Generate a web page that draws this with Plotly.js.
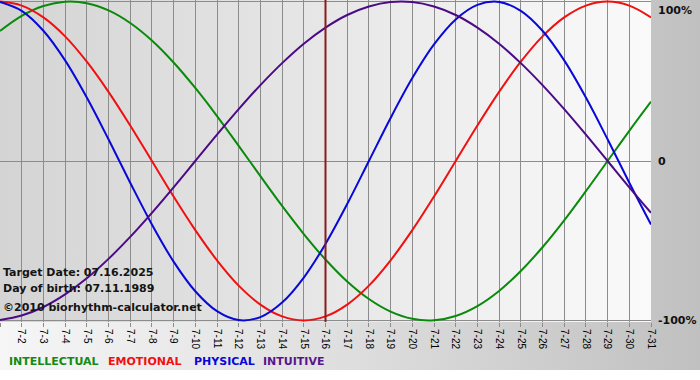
<!DOCTYPE html>
<html>
<head>
<meta charset="utf-8">
<script src="https://cdn.plot.ly/plotly-3.0.1.min.js"></script>
<style>
  html, body { margin: 0; padding: 0; background: #ffffff; }
  #chart {
    width: 700px; height: 380px;
    background:
      linear-gradient(to right, #d4d4d4, #fafafa) 0 0 / 651px 322px no-repeat,
      linear-gradient(to right, #f6f6f6 0%, #dedede 50%, #c0c0c0 100%) 0 0 / 700px 370px no-repeat,
      #ffffff;
  }
</style>
</head>
<body>
<div id="chart"></div>
<script>
// ---- data ----
const days = [1,2,3,4,5,6,7,8,9,10,11,12,13,14,15,16,17,18,19,20,21,22,23,24,25,26,27,28,29,30,31];
const tickLabels = ['7-1','7-2','7-3','7-4','7-5','7-6','7-7','7-8','7-9','7-10','7-11','7-12','7-13','7-14','7-15','7-16',
  '7-17','7-18','7-19','7-20','7-21','7-22','7-23','7-24','7-25','7-26','7-27','7-28','7-29','7-30','7-31'];

const intellectual = [0.815,0.910,0.972,0.999,0.990,0.945,0.866,0.756,0.618,0.458,0.282,0.095,-0.095,-0.282,-0.458,-0.618,
  -0.756,-0.866,-0.945,-0.990,-0.999,-0.972,-0.910,-0.815,-0.690,-0.541,-0.372,-0.189,0.000,0.189,0.372];
const emotional = [1.000,0.975,0.901,0.782,0.623,0.434,0.223,0.000,-0.223,-0.434,-0.623,-0.782,-0.901,-0.975,-1.000,-0.975,
  -0.901,-0.782,-0.623,-0.434,-0.223,0.000,0.223,0.434,0.623,0.782,0.901,0.975,1.000,0.975,0.901];
const physical = [0.998,0.942,0.817,0.631,0.398,0.136,-0.136,-0.398,-0.631,-0.817,-0.942,-0.998,-0.979,-0.888,-0.731,-0.520,
  -0.270,0.000,0.270,0.520,0.731,0.888,0.979,0.998,0.942,0.817,0.631,0.398,0.136,-0.136,-0.398];
const intuitive = [-0.997,-0.969,-0.916,-0.837,-0.736,-0.614,-0.476,-0.325,-0.165,0.000,0.165,0.325,0.476,0.614,0.736,0.837,
  0.916,0.969,0.997,0.997,0.969,0.916,0.837,0.736,0.614,0.476,0.325,0.165,0.000,-0.165,-0.325];

const seriesNames = ['INTELLECTUAL','EMOTIONAL','PHYSICAL','INTUITIVE'];
const targetDay = 16;
const infoLines = ['Target Date: 07.16.2025','Day of birth: 07.11.1989','\u00A92010 biorhythm-calculator.net'];
const yTickVals = [1, 0, -1];
const yTickText = ['100%', '0', '-100%'];

// ---- styling ----
const seriesData = [intellectual, emotional, physical, intuitive];
const seriesColors = ['#0a8a0a', '#f01010', '#0808d8', '#4b0a86'];
const legendColors = ['#138a13', '#f01010', '#0808d8', '#5a148e'];
const legendX = [8, 107, 193, 262];   // px
const infoY = [272, 288, 307];         // px
const FONT = 'Verdana, "DejaVu Sans", sans-serif';
const plotW = 651, plotH = 322;

const traces = seriesData.map((vals, i) => ({
  type: 'scatter', mode: 'lines', x: days, y: vals, name: seriesNames[i],
  line: { color: seriesColors[i], width: 2, shape: 'spline', smoothing: 1 },
  hoverinfo: 'skip'
}));

const annotations = [];
infoLines.forEach((t, i) => annotations.push({
  xref: 'paper', yref: 'paper', x: 1 / plotW, y: (plotH - infoY[i]) / plotH,
  xanchor: 'left', yanchor: 'middle', showarrow: false, text: '<b>' + t + '</b>',
  font: { family: FONT, size: 11, color: '#141414' }
}));
seriesNames.forEach((n, i) => annotations.push({
  xref: 'paper', yref: 'paper', x: (legendX[i] - 1) / plotW, y: (plotH - 361) / plotH,
  xanchor: 'left', yanchor: 'middle', showarrow: false, text: '<b>' + n + '</b>',
  font: { family: FONT, size: 11, color: legendColors[i] }
}));
yTickVals.forEach((v, i) => annotations.push({
  xref: 'paper', yref: 'y', x: 1, y: v, xshift: 5,
  xanchor: 'left', yanchor: v === 1 ? 'top' : 'middle', showarrow: false,
  text: '<b>' + yTickText[i] + '</b>',
  font: { family: FONT, size: 11, color: '#111111' }
}));

const layout = {
  width: 700, height: 380,
  margin: { l: 0, r: 49, t: 0, b: 58, pad: 0 },
  paper_bgcolor: 'rgba(0,0,0,0)',
  plot_bgcolor: 'rgba(0,0,0,0)',
  showlegend: false,
  xaxis: {
    range: [1, 31], tickmode: 'array', tickvals: days, ticktext: tickLabels,
    tickangle: 90, tickfont: { family: '"Liberation Sans", Arial, sans-serif', size: 10, color: '#000000' },
    showgrid: true, gridcolor: '#8c8c8c', gridwidth: 1,
    ticks: 'outside', ticklen: 4, tickcolor: '#8c8c8c', tickwidth: 1,
    zeroline: false, showline: false, fixedrange: true
  },
  yaxis: {
    range: [-1.01, 1.01], tickmode: 'array', tickvals: yTickVals, showticklabels: false,
    showgrid: true, gridcolor: '#8c8c8c', gridwidth: 1,
    zeroline: false, showline: false, ticks: '', fixedrange: true
  },
  shapes: [{
    type: 'line', xref: 'x', yref: 'paper', x0: targetDay, x1: targetDay, y0: 0, y1: 1,
    line: { color: '#8a1c1c', width: 2 }, layer: 'above'
  }],
  annotations: annotations
};

Plotly.newPlot('chart', traces, layout, { staticPlot: true, displayModeBar: false });
</script>
</body>
</html>
